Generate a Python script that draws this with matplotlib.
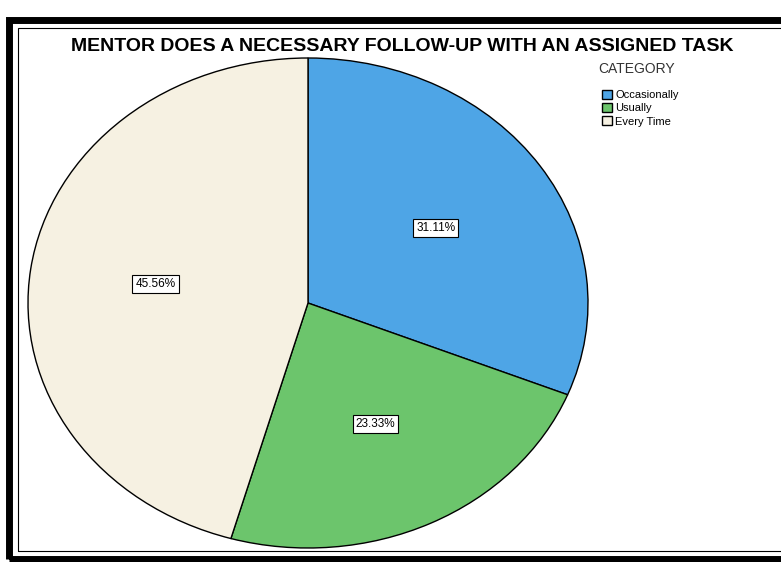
import matplotlib.pyplot as plt
from matplotlib.patches import Rectangle

categories = ['Occasionally', 'Usually', 'Every Time']
percents = [31.11, 23.33, 45.56]
colors = ['#4ea5e6', '#6cc56c', '#f6f1e2']

plt.rcParams['font.family'] = ['Liberation Sans', 'DejaVu Sans']

fig = plt.figure(figsize=(7.81, 5.62), dpi=100)

# photo-like frame: thick outer border and thin inner line
fig.patches.append(Rectangle((0.012, 0.005), 1.2, 0.96, transform=fig.transFigure,
                             fill=False, lw=5, ec='black'))
fig.patches.append(Rectangle((0.023, 0.02), 1.2, 0.93, transform=fig.transFigure,
                             fill=False, lw=0.8, ec='black'))

ax = fig.add_axes([28 / 781, 14 / 562, 560 / 781, 490 / 562])
wedges, texts, autotexts = ax.pie(
    percents, colors=colors, startangle=90, counterclock=False,
    autopct='%.2f%%', pctdistance=0.55,
    wedgeprops=dict(edgecolor='black', linewidth=1),
    textprops=dict(fontsize=8.5),
)
for t in autotexts:
    t.set_bbox(dict(boxstyle='square,pad=0.25', fc='white', ec='black', lw=0.8))
ax.set_aspect('auto')
ax.set_xlim(-1, 1)
ax.set_ylim(-1, 1)

fig.text(0.515, 0.918, 'MENTOR DOES A NECESSARY FOLLOW-UP WITH AN ASSIGNED TASK',
         ha='center', va='center', fontsize=14, fontweight='bold')

fig.text(598 / 781, 1 - 69 / 562, 'CATEGORY', ha='left', va='center',
         fontsize=10, color='#333333')
leg = fig.legend(wedges, categories, loc='upper left',
                 bbox_to_anchor=(594 / 781, 1 - 82 / 562), frameon=False,
                 fontsize=8, handlelength=0.9, handleheight=0.9,
                 handletextpad=0.3, labelspacing=0.25, borderpad=0.2)

fig.savefig('out.png', dpi=100)
